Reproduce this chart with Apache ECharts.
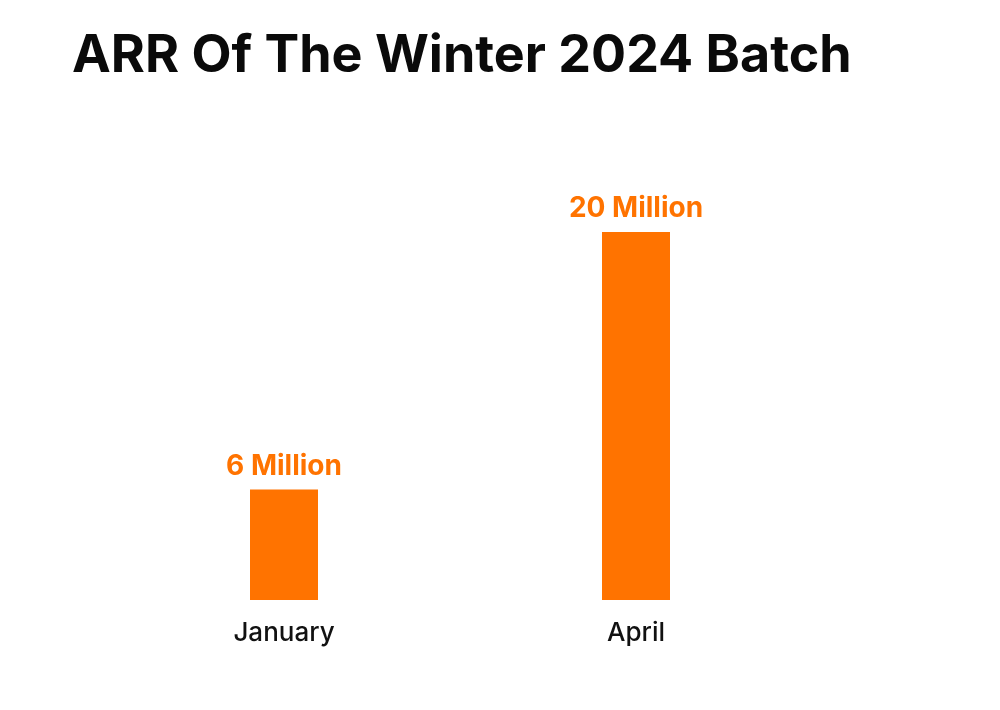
<!DOCTYPE html>
<html><head><meta charset="utf-8">
<script src="https://cdn.jsdelivr.net/npm/echarts@6/dist/echarts.min.js"></script>
<style>html,body{margin:0;padding:0;background:#fff}#c{width:1000px;height:710px}</style>
</head><body><div id="c"></div>
<script>
const titleText = "ARR Of The Winter 2024 Batch";
const categories = ["January", "April"];
const values = [6, 20];
const valueLabels = ["6 Million", "20 Million"];

const chart = echarts.init(document.getElementById('c'));
chart.setOption({
  backgroundColor: '#ffffff',
  animation: false,
  title: {
    text: titleText, left: 67, top: 25,
    textStyle: { fontFamily: 'Inter', fontWeight: 'bold', fontSize: 52, color: '#0a0a0a' }
  },
  grid: { left: 108, width: 704, top: 232, bottom: 110 },
  xAxis: {
    type: 'category', data: categories,
    axisLine: { show: false }, axisTick: { show: false },
    axisLabel: { margin: 20, fontFamily: 'Inter', fontWeight: 500, fontSize: 26, color: '#111' }
  },
  yAxis: { type: 'value', min: 0, max: 20, show: false, splitLine: { show: false } },
  series: [{
    type: 'bar', data: values, barWidth: 68,
    itemStyle: { color: '#FF7300' },
    label: {
      show: true, position: 'top', distance: 9,
      formatter: p => valueLabels[p.dataIndex],
      fontFamily: 'Inter', fontWeight: 'bold', fontSize: 28, color: '#FF7300'
    }
  }]
});
</script></body></html>
